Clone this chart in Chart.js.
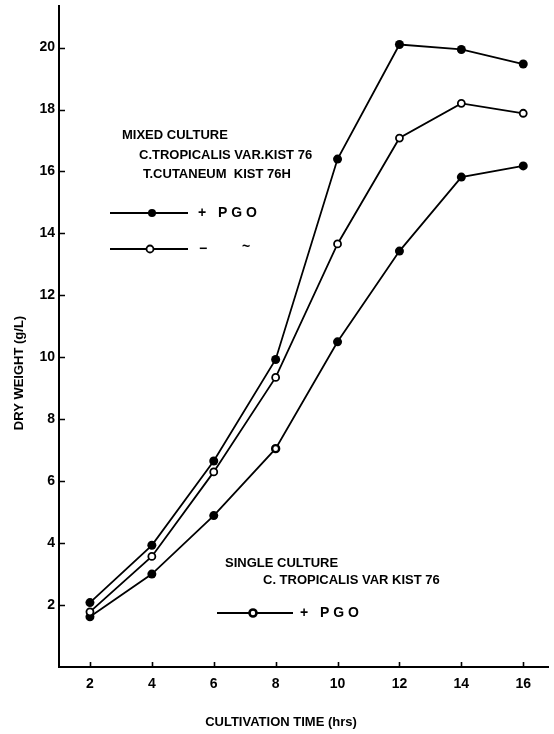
<!DOCTYPE html>
<html>
<head>
<meta charset="utf-8">
<style>
  html, body { margin: 0; padding: 0; background: #fff; }
  #wrap { width: 554px; height: 734px; position: relative; }
</style>
<script src="https://cdn.jsdelivr.net/npm/chart.js@4.4.1/dist/chart.umd.min.js"></script>
</head>
<body>
<div id="wrap"><canvas id="c" width="554" height="734"></canvas></div>
<script>
// Cultivation time (hrs)
const hours = [2, 4, 6, 8, 10, 12, 14, 16];
// Dry weight (g/L)
const mixedWithPGO    = [2.08, 3.93, 6.65, 9.93, 16.4, 20.1, 19.94, 19.47];
const mixedWithoutPGO = [1.78, 3.57, 6.30, 9.35, 13.66, 17.08, 18.2, 17.88];
const singleWithPGO   = [1.62, 3.00, 4.89, 7.05, 10.5, 13.43, 15.82, 16.18];
const xTicks = [2, 4, 6, 8, 10, 12, 14, 16];
const yTicks = [2, 4, 6, 8, 10, 12, 14, 16, 18, 20];

const FONT = '"Liberation Sans", Arial, sans-serif';
const pts = vals => hours.map((h, i) => ({ x: h, y: vals[i] }));

// Inward tick marks, axis titles and the in-plot legend text
const decorations = {
  id: 'decorations',
  afterDraw(chart) {
    const ctx = chart.ctx;
    const xs = chart.scales.x, ys = chart.scales.y;
    const ca = chart.chartArea;
    ctx.save();
    ctx.strokeStyle = '#000';
    ctx.lineWidth = 1.6;
    ctx.beginPath();
    yTicks.forEach(v => {
      const p = Math.round(ys.getPixelForValue(v)) + 0.5;
      ctx.moveTo(ca.left, p); ctx.lineTo(ca.left + 6, p);
    });
    xTicks.forEach(v => {
      const p = Math.round(xs.getPixelForValue(v)) + 0.5;
      ctx.moveTo(p, ca.bottom); ctx.lineTo(p, ca.bottom - 5);
    });
    ctx.stroke();

    ctx.fillStyle = '#000';
    ctx.textBaseline = 'middle';

    // axis titles
    ctx.font = 'bold 13px ' + FONT;
    ctx.textAlign = 'center';
    ctx.fillText('CULTIVATION TIME (hrs)', 281, 722);
    ctx.save();
    ctx.translate(19, 373);
    ctx.rotate(-Math.PI / 2);
    ctx.fillText('DRY WEIGHT (g/L)', 0, 0);
    ctx.restore();

    // mixed culture block
    ctx.textAlign = 'left';
    ctx.fillText('MIXED CULTURE', 122, 135);
    ctx.fillText('C.TROPICALIS VAR.KIST 76', 139, 155);
    ctx.fillText('T.CUTANEUM  KIST 76H', 143, 174);

    const sample = (x1, x2, y, mx, open, bw) => {
      ctx.lineWidth = 1.8;
      ctx.beginPath(); ctx.moveTo(x1, y); ctx.lineTo(x2, y); ctx.stroke();
      ctx.beginPath(); ctx.arc(mx, y, open ? 3.5 : 4, 0, Math.PI * 2);
      if (open) { ctx.fillStyle = '#fff'; ctx.fill(); ctx.lineWidth = bw; ctx.stroke(); }
      else { ctx.fillStyle = '#000'; ctx.fill(); }
      ctx.fillStyle = '#000';
    };
    sample(110, 188, 213, 152, false, 0);
    ctx.font = 'bold 14px ' + FONT;
    ctx.fillText('+', 198, 213);
    ctx.fillText('P G O', 218, 213);
    sample(110, 188, 249, 150, true, 1.8);
    ctx.fillText('\u2212', 199, 249);
    ctx.fillText('~', 242, 247);

    // single culture block
    ctx.font = 'bold 13px ' + FONT;
    ctx.fillText('SINGLE CULTURE', 225, 563);
    ctx.fillText('C. TROPICALIS VAR KIST 76', 263, 580);
    sample(217, 293, 613, 253, true, 2.6);
    ctx.font = 'bold 14px ' + FONT;
    ctx.fillText('+', 300, 613);
    ctx.fillText('P G O', 320, 613);
    ctx.restore();
  }
};

const lineBase = { borderColor: '#000', borderWidth: 1.8, tension: 0, pointBorderColor: '#000' };

new Chart(document.getElementById('c'), {
  type: 'line',
  data: {
    datasets: [
      Object.assign({}, lineBase, {
        label: 'Mixed culture + PGO',
        data: pts(mixedWithPGO),
        pointRadius: 4.5, pointBackgroundColor: '#000', pointBorderWidth: 0
      }),
      Object.assign({}, lineBase, {
        label: 'Mixed culture - PGO',
        data: pts(mixedWithoutPGO),
        pointRadius: 3.5, pointBackgroundColor: '#fff', pointBorderWidth: 1.8
      }),
      Object.assign({}, lineBase, {
        label: 'Single culture + PGO',
        data: pts(singleWithPGO),
        pointRadius: ctx => ctx.dataIndex === 3 ? 3.5 : 4.5,
        pointBackgroundColor: ctx => ctx.dataIndex === 3 ? '#fff' : '#000',
        pointBorderWidth: ctx => ctx.dataIndex === 3 ? 2.4 : 0
      })
    ]
  },
  options: {
    responsive: false,
    animation: false,
    devicePixelRatio: 1,
    layout: { padding: { top: 5, right: 6, left: 0, bottom: 0 } },
    plugins: { legend: { display: false }, tooltip: { enabled: false } },
    scales: {
      x: {
        type: 'linear', min: 1, max: 16.8,
        afterBuildTicks: s => { s.ticks = xTicks.map(v => ({ value: v })); },
        afterFit: s => { s.height = 67; s.paddingLeft = 0; s.paddingRight = 0; },
        grid: { display: false, drawTicks: false },
        border: { display: true, color: '#000', width: 2 },
        ticks: { color: '#000', font: { family: FONT, size: 14, weight: 'bold' }, padding: 9, maxRotation: 0, autoSkip: false }
      },
      y: {
        type: 'linear', min: 0, max: 21.35,
        afterBuildTicks: s => { s.ticks = yTicks.map(v => ({ value: v })); },
        afterFit: s => { s.width = 59; s.paddingTop = 0; s.paddingBottom = 0; },
        grid: { display: false, drawTicks: false },
        border: { display: true, color: '#000', width: 2 },
        ticks: { color: '#000', font: { family: FONT, size: 14, weight: 'bold' }, padding: 4, autoSkip: false }
      }
    }
  },
  plugins: [decorations]
});
</script>
</body>
</html>
